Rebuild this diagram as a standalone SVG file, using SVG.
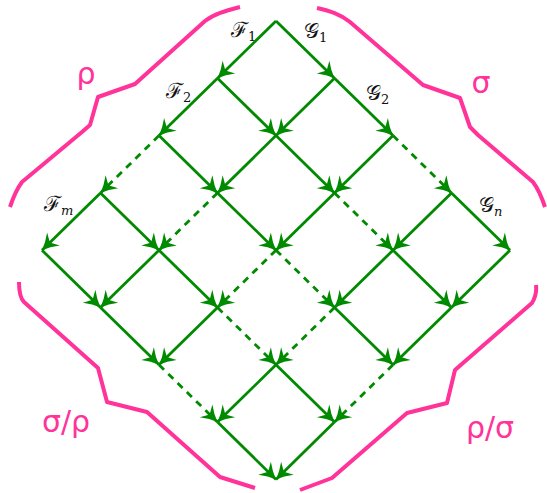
<svg xmlns="http://www.w3.org/2000/svg" width="547" height="493" viewBox="0 0 547 493">
<style>
.e{stroke:#008a00;stroke-width:2.8;fill:none;marker-end:url(#ah)}
.d{stroke-dasharray:7 6}
.br{stroke:#ff3399;stroke-width:4;fill:none;stroke-linejoin:round;stroke-linecap:butt}
.gl{font-family:"DejaVu Sans","Noto Sans",sans-serif;font-size:30px;fill:#ff3399}
.ml{font-family:"DejaVu Serif","Liberation Serif",serif;font-size:21px;fill:#111}
.sb{font-family:"DejaVu Serif","Liberation Serif",serif;font-size:13px}
.it{font-style:italic}
</style>
<defs>
<marker id="ah" markerUnits="userSpaceOnUse" markerWidth="24" markerHeight="24" viewBox="-18 -12 24 24" refX="0" refY="0" orient="auto">
<path d="M0,0 Q-8,-3 -16,-9 L-11,0 L-16,9 Q-8,3 0,0 Z" fill="#008a00"/>
</marker>
</defs>
<g id="connectors">
<line class="e" x1="276" y1="21" x2="217.5" y2="78.3"/>
<line class="e" x1="217.5" y1="78.3" x2="159" y2="135.6"/>
<line class="e d" x1="159" y1="135.6" x2="100.5" y2="192.9"/>
<line class="e" x1="100.5" y1="192.9" x2="42" y2="250.2"/>
<line class="e" x1="334.5" y1="78.3" x2="276" y2="135.6"/>
<line class="e" x1="276" y1="135.6" x2="217.5" y2="192.9"/>
<line class="e d" x1="217.5" y1="192.9" x2="159" y2="250.2"/>
<line class="e" x1="159" y1="250.2" x2="100.5" y2="307.5"/>
<line class="e" x1="393" y1="135.6" x2="334.5" y2="192.9"/>
<line class="e" x1="334.5" y1="192.9" x2="276" y2="250.2"/>
<line class="e d" x1="276" y1="250.2" x2="217.5" y2="307.5"/>
<line class="e" x1="217.5" y1="307.5" x2="159" y2="364.8"/>
<line class="e" x1="451.5" y1="192.9" x2="393" y2="250.2"/>
<line class="e" x1="393" y1="250.2" x2="334.5" y2="307.5"/>
<line class="e d" x1="334.5" y1="307.5" x2="276" y2="364.8"/>
<line class="e" x1="276" y1="364.8" x2="217.5" y2="422.1"/>
<line class="e" x1="510" y1="250.2" x2="451.5" y2="307.5"/>
<line class="e" x1="451.5" y1="307.5" x2="393" y2="364.8"/>
<line class="e d" x1="393" y1="364.8" x2="334.5" y2="422.1"/>
<line class="e" x1="334.5" y1="422.1" x2="276" y2="479.4"/>
<line class="e" x1="276" y1="21" x2="334.5" y2="78.3"/>
<line class="e" x1="334.5" y1="78.3" x2="393" y2="135.6"/>
<line class="e d" x1="393" y1="135.6" x2="451.5" y2="192.9"/>
<line class="e" x1="451.5" y1="192.9" x2="510" y2="250.2"/>
<line class="e" x1="217.5" y1="78.3" x2="276" y2="135.6"/>
<line class="e" x1="276" y1="135.6" x2="334.5" y2="192.9"/>
<line class="e d" x1="334.5" y1="192.9" x2="393" y2="250.2"/>
<line class="e" x1="393" y1="250.2" x2="451.5" y2="307.5"/>
<line class="e" x1="159" y1="135.6" x2="217.5" y2="192.9"/>
<line class="e" x1="217.5" y1="192.9" x2="276" y2="250.2"/>
<line class="e d" x1="276" y1="250.2" x2="334.5" y2="307.5"/>
<line class="e" x1="334.5" y1="307.5" x2="393" y2="364.8"/>
<line class="e" x1="100.5" y1="192.9" x2="159" y2="250.2"/>
<line class="e" x1="159" y1="250.2" x2="217.5" y2="307.5"/>
<line class="e d" x1="217.5" y1="307.5" x2="276" y2="364.8"/>
<line class="e" x1="276" y1="364.8" x2="334.5" y2="422.1"/>
<line class="e" x1="42" y1="250.2" x2="100.5" y2="307.5"/>
<line class="e" x1="100.5" y1="307.5" x2="159" y2="364.8"/>
<line class="e d" x1="159" y1="364.8" x2="217.5" y2="422.1"/>
<line class="e" x1="217.5" y1="422.1" x2="276" y2="479.4"/>
</g>
<g id="labels-F">
<text class="ml" x="231" y="37">ℱ<tspan class="sb" dy="4">1</tspan></text>
<text class="ml" x="166" y="98">ℱ<tspan class="sb" dy="4">2</tspan></text>
<text class="ml" x="44" y="211">ℱ<tspan class="sb it" dy="4">m</tspan></text>
</g>
<g id="labels-G">
<text class="ml" x="304" y="38">𝒢<tspan class="sb" dy="4">1</tspan></text>
<text class="ml" x="366" y="100">𝒢<tspan class="sb" dy="4">2</tspan></text>
<text class="ml" x="479" y="212">𝒢<tspan class="sb it" dy="4">n</tspan></text>
</g>
<g id="brace-rho">
<path class="br" d="M240,7 C225,11 214,14 205,21 L135,84 L98,97 L90,125 L82,132 L22,182 C16,190 13,198 10,207"/>
<text class="gl" x="86" y="84" text-anchor="middle">ρ</text>
</g>
<g id="brace-sigma">
<path class="br" d="M317,8 C330,11 340,14 350,22 L423,85 L460,98 L470,127 L478,135 L533,182 C539,190 542,198 545,207"/>
<text class="gl" x="481" y="93" text-anchor="middle">σ</text>
</g>
<g id="brace-sigma-rho">
<path class="br" d="M19,282 C19,292 20,298 24,302 L98,368 L107,402 L147,412 L220,477 L255,488"/>
<text class="gl" x="66" y="432" text-anchor="middle">σ/ρ</text>
</g>
<g id="brace-rho-sigma">
<path class="br" d="M536,285 C537,293 535,298 532,303 L455,370 L447,403 L407,413 L332,478 L300,490"/>
<text class="gl" x="490" y="438" text-anchor="middle">ρ/σ</text>
</g>
</svg>
